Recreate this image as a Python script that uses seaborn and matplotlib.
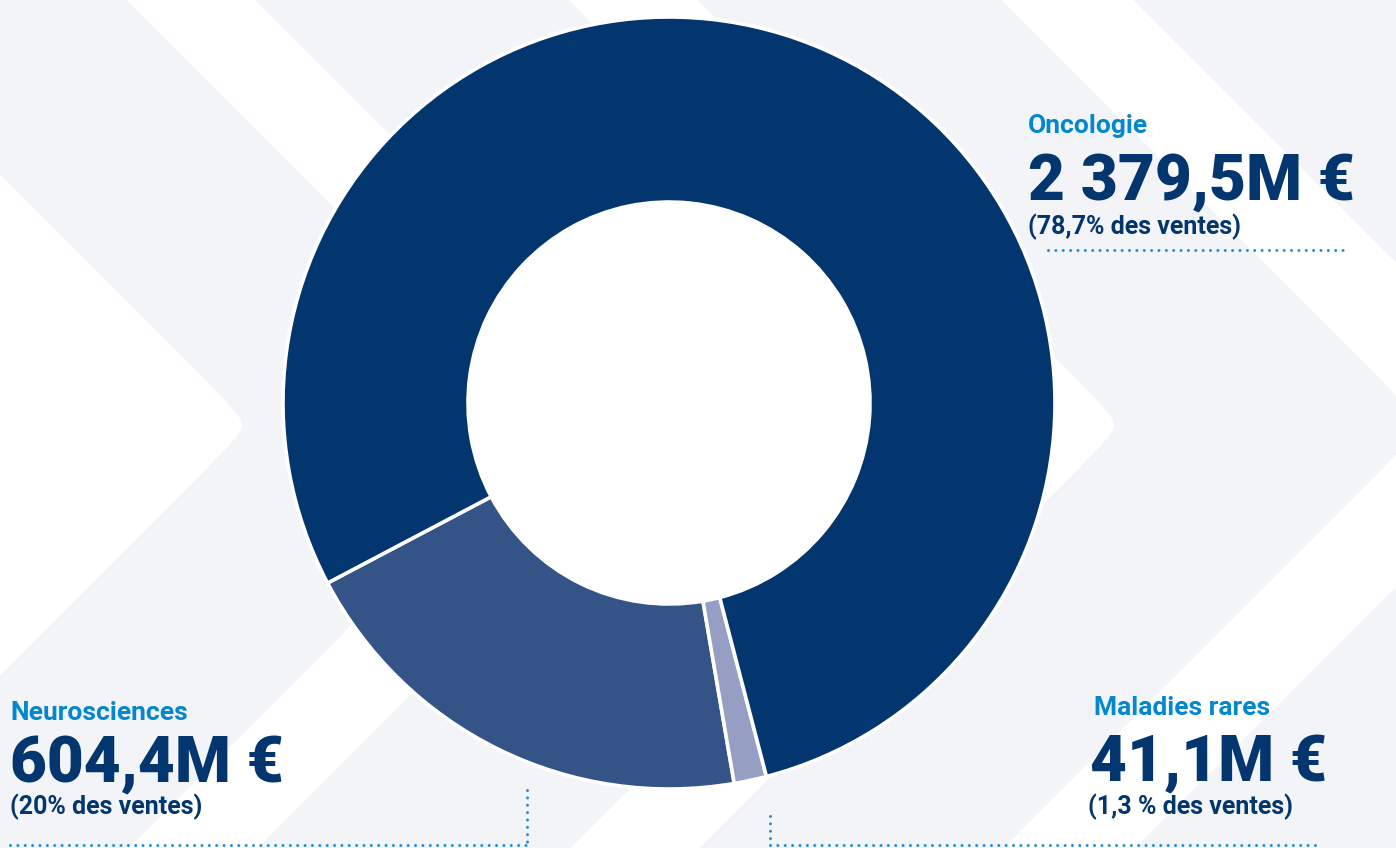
"""
Ventes 2023 par aire thérapeutique - donut chart with chevron background.
"""
import numpy as np
import matplotlib
matplotlib.use("Agg")
import matplotlib.pyplot as plt
import seaborn as sns

# ---------- data ----------
segments = ["Neurosciences", "Maladies rares", "Oncologie"]
sales_meur = [604.4, 41.1, 2379.5]
share_labels = ["(20% des ventes)", "(1,3 % des ventes)", "(78,7% des ventes)"]

# ---------- style ----------
W, H = 1396, 848
NAVY = "#03356E"
LABEL_BLUE = "#0388CF"
DOT_BLUE = "#2B90D3"
GRAY_BG = (243, 244, 248)
seg_colors = ["#345387", "#969EC3", NAVY]

sns.set_theme(style="white")
plt.rcParams["font.family"] = ["Roboto", "DejaVu Sans"]


def fmt_meur(v):
    s = f"{v:,.1f}".replace(",", " ").replace(".", ",")
    return s + "M €"


def Y(y_img):
    # helper: work in image pixel rows, axes has y going up
    return H - y_img


# ---------- background chevrons ----------
yy, xx = np.mgrid[0:H, 0:W] + 0.5
tip_y, r = 425, 9
v = xx + np.sqrt((yy - tip_y) ** 2 + r ** 2) - r
white = v <= 242
for lo, hi in [(543, 672), (985, 1114), (1418, 1550)]:
    white |= (v >= lo) & (v <= hi)
bg = np.empty((H, W, 3), dtype=np.uint8)
bg[:] = GRAY_BG
bg[white] = (255, 255, 255)

fig = plt.figure(figsize=(W / 100, H / 100), dpi=100)
ax = fig.add_axes([0, 0, 1, 1])
ax.imshow(bg, extent=(0, W, 0, H), origin="upper", zorder=0, interpolation="nearest")

# ---------- donut ----------
cx, cy = 669, Y(403)
R_out, R_in = 386, 201
ax.pie(sales_meur, colors=seg_colors, startangle=207.8, counterclock=True,
       center=(cx, cy), radius=R_out,
       wedgeprops=dict(width=R_out - R_in, edgecolor="white", linewidth=2.6))
ax.add_patch(plt.Circle((cx, cy), R_in, color="white", zorder=2))

ax.set_xlim(0, W)
ax.set_ylim(0, H)
ax.axis("off")

# ---------- labels ----------
# (name baseline, value baseline, share baseline, x name, x value, x share)
blocks = {
    "Oncologie": (133, 200, 234, 1028, 1028, 1028),
    "Neurosciences": (720, 782, 814, 10, 10, 10),
    "Maladies rares": (715, 781, 814, 1094, 1090, 1088),
}
for name, val, share in zip(segments, sales_meur, share_labels):
    yn, yv, ys, xn, xv, xs = blocks[name]
    ax.text(xn, Y(yn), name, color=LABEL_BLUE, fontsize=19, fontweight="bold",
            va="baseline", ha="left")
    ax.text(xv, Y(yv), fmt_meur(val), color=NAVY, fontsize=46, fontweight="black",
            va="baseline", ha="left")
    ax.text(xs, Y(ys), share, color=NAVY, fontsize=18, fontweight="bold",
            va="baseline", ha="left")

# dotted leader lines
dot = dict(color=DOT_BLUE, lw=2.2, linestyle=(0, (0.01, 2.4)),
           dash_capstyle="round", zorder=3)
ax.plot([1048, 1348], [Y(250), Y(250)], **dot)
ax.plot([10, 527], [Y(845), Y(845)], **dot)
ax.plot([527, 527], [Y(790), Y(845)], **dot)
ax.plot([770, 770], [Y(816), Y(845)], **dot)
ax.plot([770, 1315], [Y(845), Y(845)], **dot)

fig.savefig("out.png", dpi=100)
